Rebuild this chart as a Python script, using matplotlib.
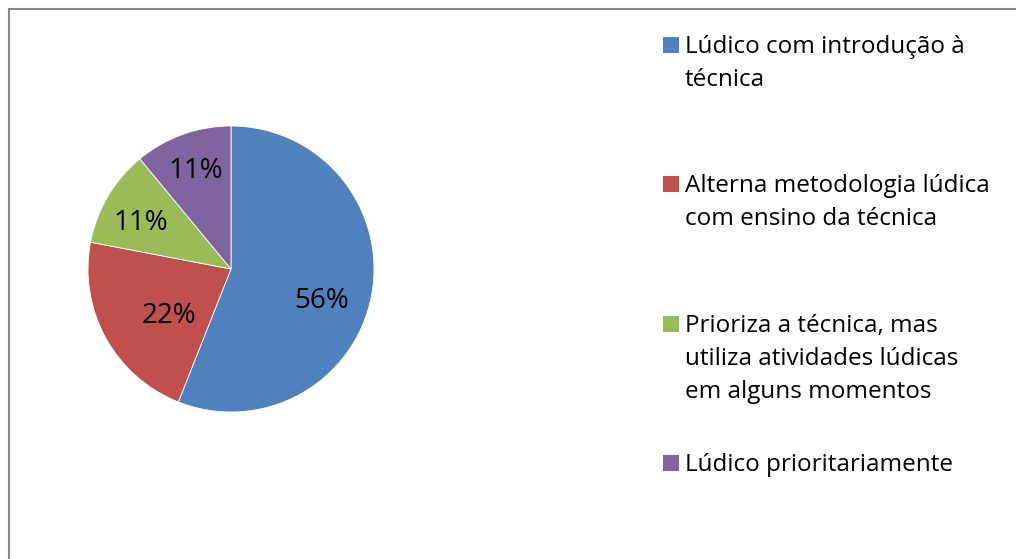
import matplotlib.pyplot as plt
from matplotlib.patches import Rectangle

# Data
labels = ['Lúdico com introdução à\ntécnica',
          'Alterna metodologia lúdica\ncom ensino da técnica',
          'Prioriza a técnica, mas\nutiliza atividades lúdicas\nem alguns momentos',
          'Lúdico prioritariamente']
values = [56, 22, 11, 11]
colors = ['#4F81BD', '#C0504D', '#9BBB59', '#8064A2']

plt.rcParams['font.family'] = ['Open Sans', 'DejaVu Sans']

fig = plt.figure(figsize=(10.16, 5.59), dpi=100)

# outer chart frame (cropped at right and bottom)
fig.patches.append(Rectangle((8.5/1016, -0.1), 1.2, (559-9.5)/559 + 0.1,
                             transform=fig.transFigure, fill=False,
                             edgecolor='#878787', linewidth=1.5))

# pie
ax = fig.add_axes([(231-143)/1016, (559-412)/559, 286/1016, 286/559])
wedges, texts, autotexts = ax.pie(values, colors=colors, startangle=90,
                                  counterclock=False, radius=1,
                                  autopct='%d%%', pctdistance=0.68,
                                  wedgeprops=dict(linewidth=0.6, edgecolor='white'),
                                  textprops=dict(fontsize=20, color='black'))
ax.set_xlim(-1, 1)
ax.set_ylim(-1, 1)

# label placement similar to Excel
label_pos = [(0.636, -0.224), (-0.434, -0.329), (-0.629, 0.322), (-0.245, 0.685)]
for t, p in zip(autotexts, label_pos):
    t.set_position(p)
    t.set_ha('center')
    t.set_va('center')

# legend (drawn by hand, Excel spaces entries evenly)
y0 = 45
step = 139.3
line_h = 33
for i, (lab, c) in enumerate(zip(labels, colors)):
    yc = y0 + i*step
    fig.patches.append(Rectangle((663/1016, (559-yc-8)/559), 16/1016, 16/559,
                                 transform=fig.transFigure, facecolor=c,
                                 edgecolor='none'))
    for k, line in enumerate(lab.split('\n')):
        fig.text(685/1016, (559-yc-8-k*line_h)/559, line, fontsize=17.5,
                 va='baseline', ha='left', color='black')

fig.savefig('out.png', dpi=100)
